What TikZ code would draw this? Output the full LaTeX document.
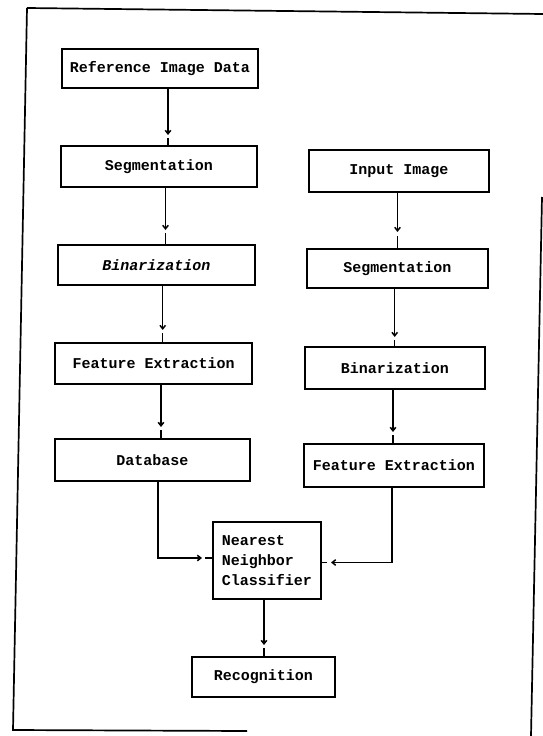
\documentclass[tikz,border=0pt]{standalone}
\usepackage{fontspec}
\setmainfont{Liberation Mono}
\usetikzlibrary{arrows.meta}
\begin{document}
\begin{tikzpicture}[x=1pt,y=-1pt,
  box/.style={draw, line width=1.8pt, inner sep=0pt, align=center,
    font=\fontsize{15}{20}\selectfont\bfseries},
  conn/.style={line width=1.5pt},
  arr/.style={line width=1.5pt, -{Straight Barb[length=3.5pt,width=5.5pt]}},
  frame/.style={line width=1.7pt}]
\useasboundingbox (0,0) rectangle (543,736);
% frame
\draw[frame] (27,8) -- (543,14);
\draw[frame] (27,8) -- (13,730) -- (247,731);
\draw[frame] (542,197) -- (531,736);
% nodes
\node[box, minimum width=196pt, minimum height=39pt] (ref) at (160,68.5) {Reference Image Data};
\node[box, minimum width=196pt, minimum height=41pt] (segL) at (158.8,166.5) {Segmentation};
\node[box, minimum width=197pt, minimum height=40pt] (binL) at (156.4,265) {\itshape Binarization};
\node[box, minimum width=197pt, minimum height=41pt] (feL) at (153.7,363.5) {Feature Extraction};
\node[box, minimum width=195pt, minimum height=42pt] (db) at (152.4,460) {Database};
\node[box, minimum width=180pt, minimum height=42pt] (inp) at (399,171) {Input Image};
\node[box, minimum width=181pt, minimum height=39pt] (segR) at (397.5,268.5) {Segmentation};
\node[box, minimum width=180pt, minimum height=42pt] (binR) at (395,368) {Binarization};
\node[box, minimum width=180pt, minimum height=43pt] (feR) at (394,465.5) {Feature Extraction};
\node[box, minimum width=108pt, minimum height=77pt, align=left] (nn) at (267,560.5) {Nearest\\Neighbor\\Classifier};
\node[box, minimum width=143pt, minimum height=40pt] (rec) at (263.5,677) {Recognition};
% arrow tips and stub starts
\coordinate (t1) at (168,135);   \coordinate (s1) at (168,138);
\coordinate (t2) at (165.5,230); \coordinate (s2) at (165.5,233);
\coordinate (t3) at (162.7,330); \coordinate (s3) at (162.7,333);
\coordinate (t4) at (161,427);   \coordinate (s4) at (161,430);
\coordinate (t5) at (397.5,232); \coordinate (s5) at (397.5,236);
\coordinate (t6) at (394.7,337); \coordinate (s6) at (394.7,340);
\coordinate (t7) at (393,432);   \coordinate (s7) at (393,435);
\coordinate (c8) at (158,558);   \coordinate (t8) at (202,558); \coordinate (s8) at (205,558);
\coordinate (c9) at (392,562.5); \coordinate (t9) at (331,562.5); \coordinate (s9) at (327,562.5);
\coordinate (t10) at (264,645);  \coordinate (s10) at (264,648);
% connectors
\draw[arr] (ref.south -| t1) -- (t1);  \draw[conn] (s1) -- (segL.north -| s1);
\draw[arr] (segL.south -| t2) -- (t2); \draw[conn] (s2) -- (binL.north -| s2);
\draw[arr] (binL.south -| t3) -- (t3); \draw[conn] (s3) -- (feL.north -| s3);
\draw[arr] (feL.south -| t4) -- (t4);  \draw[conn] (s4) -- (db.north -| s4);
\draw[arr] (inp.south -| t5) -- (t5);  \draw[conn] (s5) -- (segR.north -| s5);
\draw[arr] (segR.south -| t6) -- (t6); \draw[conn] (s6) -- (binR.north -| s6);
\draw[arr] (binR.south -| t7) -- (t7); \draw[conn] (s7) -- (feR.north -| s7);
\draw[arr] (db.south -| c8) -- (c8) -- (t8); \draw[conn] (s8) -- (nn.west |- s8);
\draw[arr] (feR.south -| c9) -- (c9) -- (t9); \draw[conn] (s9) -- (nn.east |- s9);
\draw[arr] (nn.south -| t10) -- (t10); \draw[conn] (s10) -- (rec.north -| s10);
\end{tikzpicture}
\end{document}
